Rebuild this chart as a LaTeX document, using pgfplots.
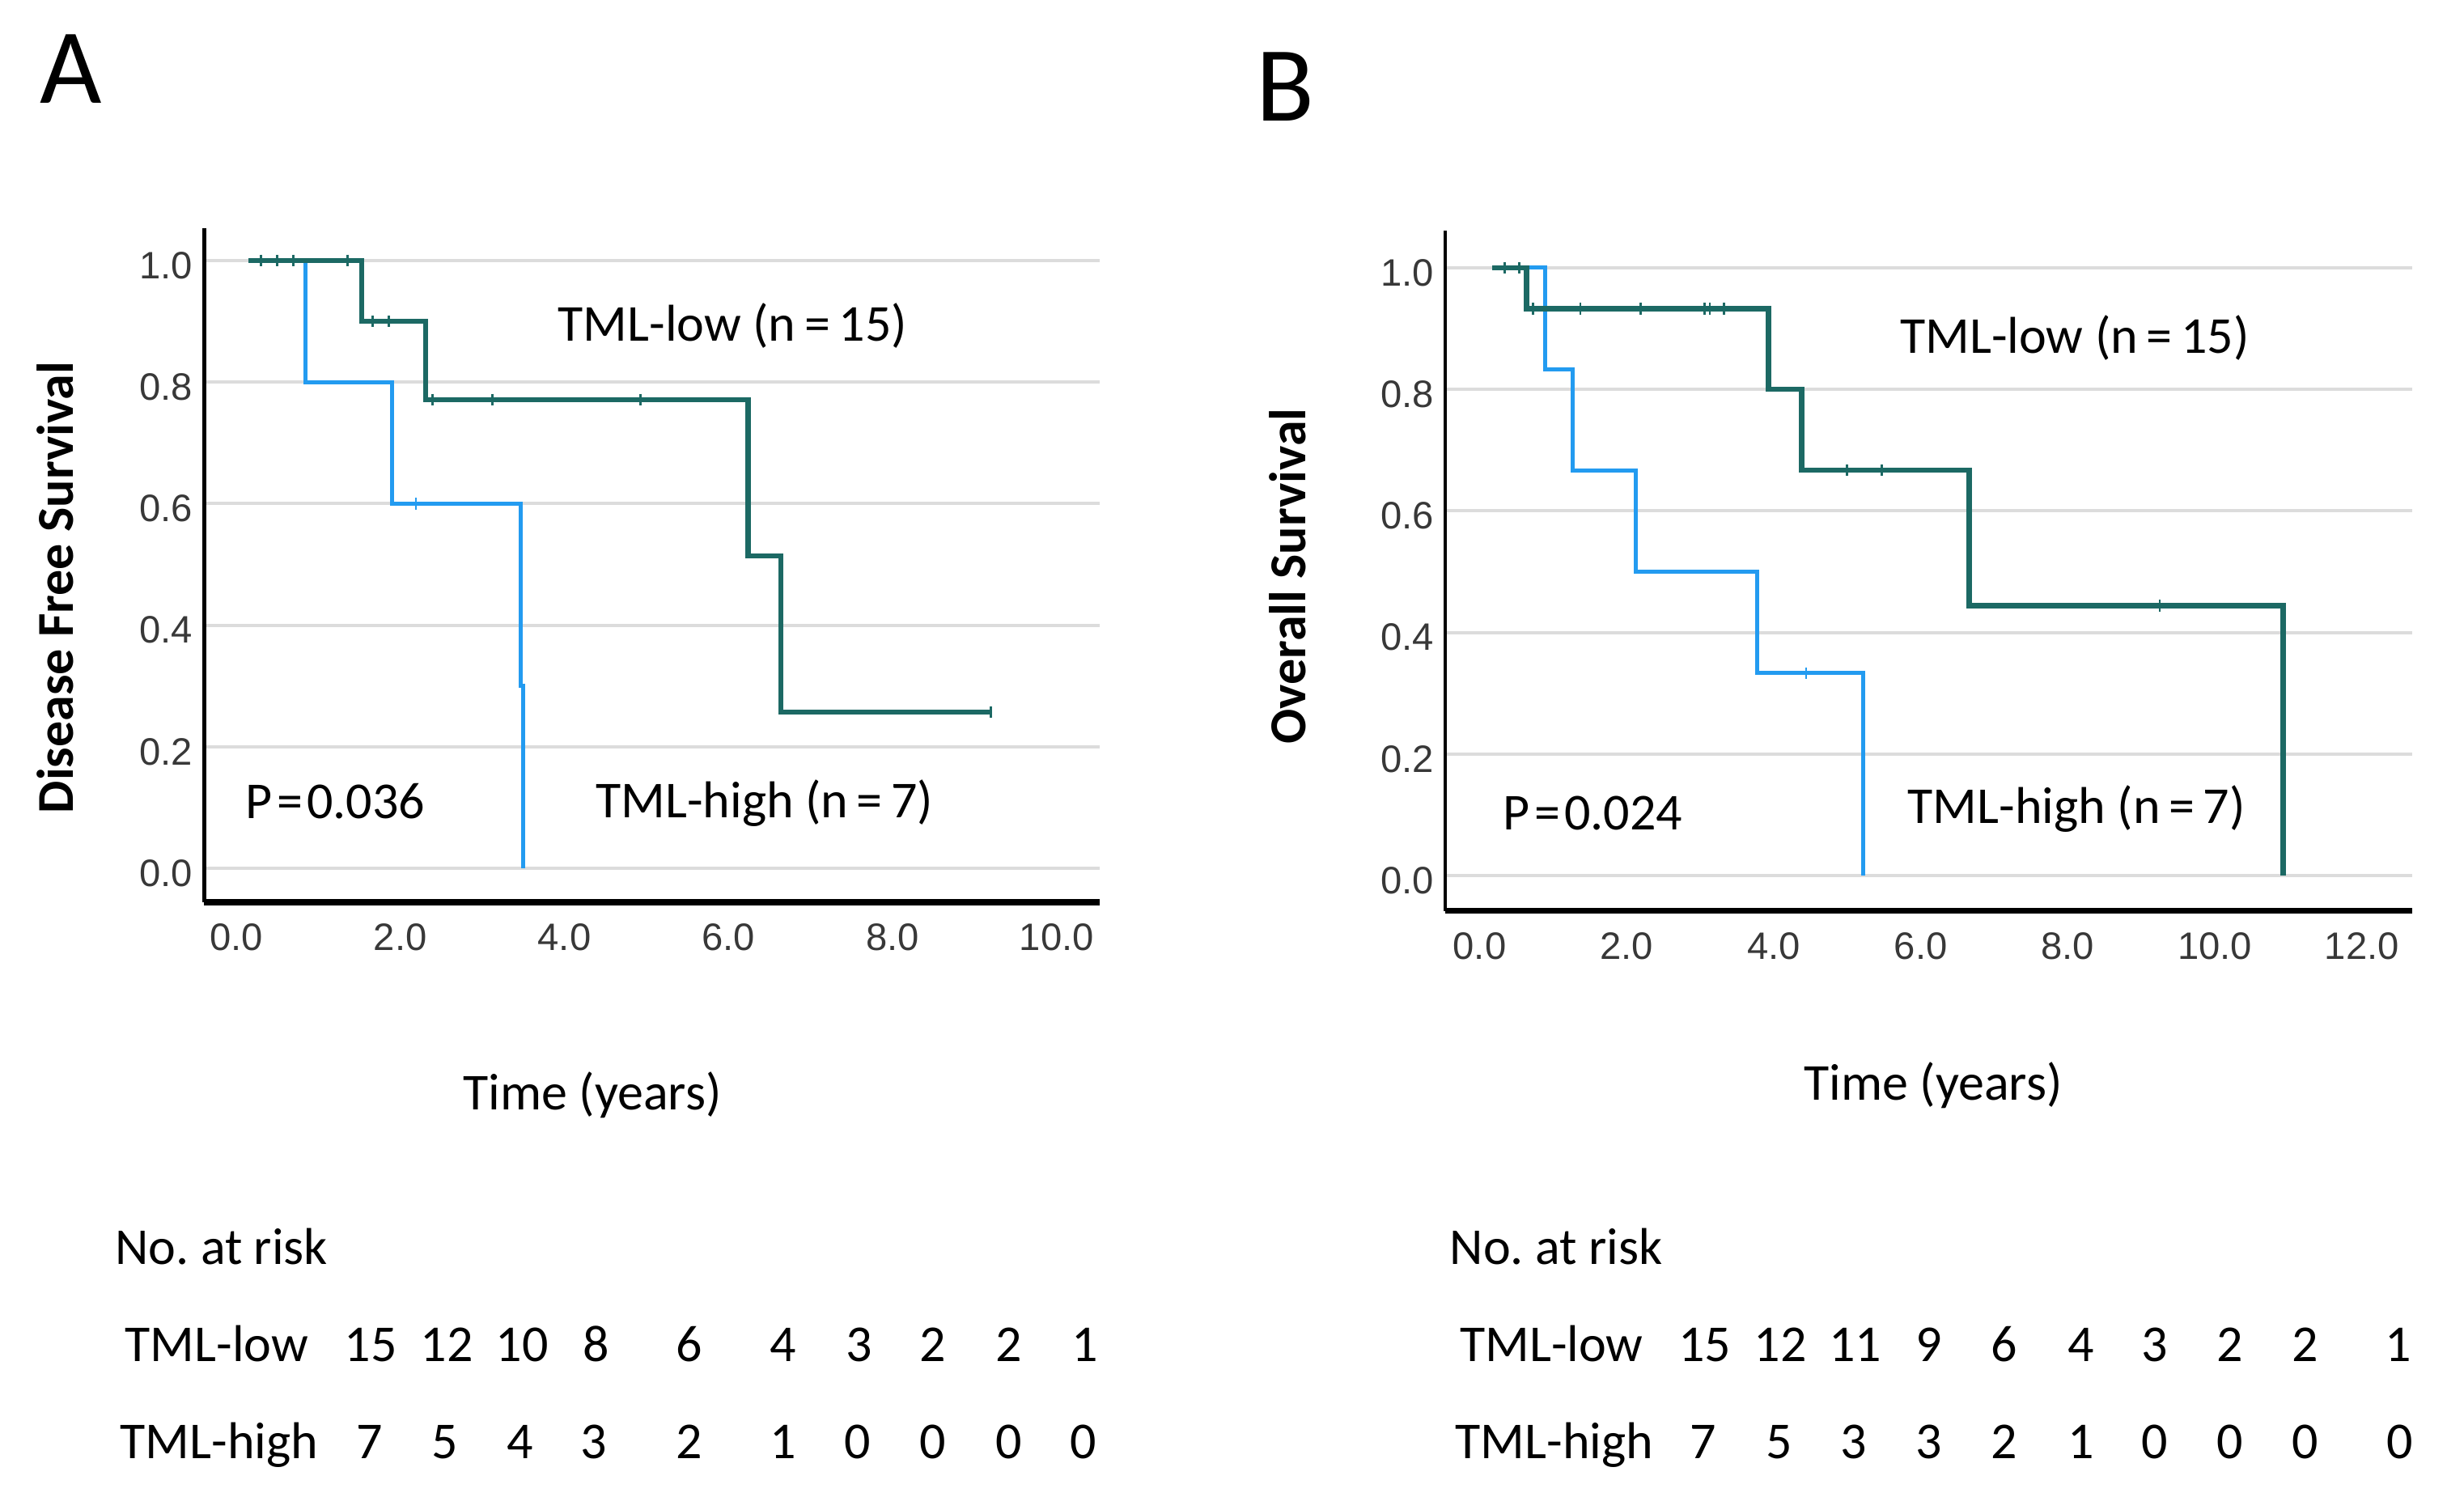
\documentclass[border=0pt]{standalone}
\usepackage{fontspec}
\setmainfont{Carlito}
\newfontfamily\arial{Liberation Sans}
\usepackage{pgfplots}
\pgfplotsset{compat=1.18}
\definecolor{tealc}{RGB}{28,105,100}
\definecolor{bluec}{RGB}{35,155,240}
\definecolor{gridc}{RGB}{220,220,220}
\pgfplotsset{km/.style={
  scale only axis, anchor=south west,
  axis x line=bottom, axis y line=left,
  axis line style={-, black},
  x axis line style={line width=1.8pt},
  y axis line style={line width=1.1pt},
  major tick length=0pt,
  ymajorgrids, grid style={gridc, line width=1pt},
  ytick={0,0.2,0.4,0.6,0.8,1.0},
  tick label style={font=\arial\fontsize{11.8}{14}\selectfont, text=black!78},
  /pgf/number format/assume math mode=true,
  x tick label style={/pgf/number format/fixed, /pgf/number format/fixed zerofill, /pgf/number format/precision=1, yshift=-3.2pt},
  y tick label style={/pgf/number format/fixed, /pgf/number format/fixed zerofill, /pgf/number format/precision=1, yshift=-1.5pt},
  clip=false,
},
tealline/.style={const plot, tealc, line width=1.6pt},
blueline/.style={const plot, bluec, line width=1.25pt},
cens/.style={only marks, mark=|, mark size=1.8pt, mark options={line width=0.7pt}},
}
\newcommand{\txt}{\fontsize{16}{19}\selectfont}
\newcommand{\eq}{\kern0.08em=\kern0.08em}
\begin{document}
\begin{tikzpicture}
\path[use as bounding box] (0,0) rectangle (761.25pt,462.5pt);

% ---------- Panel A ----------
\begin{axis}[km, at={(63.08pt,183.75pt)}, width=276.55pt, height=208.25pt,
  xmin=-0.39, xmax=10.52, ymin=-0.0555, ymax=1.053,
  xtick={0,2,4,6,8,10}]
\addplot[blueline] coordinates {(0.15,1) (0.84,0.8) (1.90,0.6) (3.47,0.3) (3.50,0)};
\addplot[cens, bluec] coordinates {(2.19,0.6)};
\addplot[tealline] coordinates {(0.15,1) (1.53,0.9) (2.31,0.771) (6.24,0.514) (6.64,0.257) (9.2,0.257)};
\addplot[cens, tealc] coordinates {(0.30,1) (0.50,1) (0.70,1) (1.36,1) (1.66,0.9) (1.86,0.9) (2.39,0.771) (3.12,0.771) (4.93,0.771) (9.2,0.257)};
\end{axis}

% ---------- Panel B ----------
\begin{axis}[km, at={(446.45pt,181.1pt)}, width=298.7pt, height=210.1pt,
  xmin=-0.47, xmax=12.68, ymin=-0.058, ymax=1.061,
  xtick={0,2,4,6,8,10,12}]
\addplot[blueline] coordinates {(0.17,1) (0.89,0.833) (1.26,0.667) (2.12,0.5) (3.77,0.333) (5.22,0)};
\addplot[cens, bluec] coordinates {(4.44,0.333)};
\addplot[tealline] coordinates {(0.17,1) (0.64,0.933) (3.93,0.8) (4.38,0.667) (6.66,0.444) (10.93,0)};
\addplot[cens, tealc] coordinates {(0.34,1) (0.54,1) (0.73,0.933) (1.37,0.933) (2.19,0.933) (3.06,0.933) (3.13,0.933) (3.32,0.933) (5.0,0.667) (5.47,0.667) (9.25,0.444)};
\end{axis}

% ---------- Panel letters ----------
\node[font=\fontsize{33}{36}\selectfont] at (22pt,441.25pt) {A};
\node[font=\fontsize{33}{36}\selectfont] at (397pt,435.75pt) {B};

% ---------- Axis titles ----------
\node[font=\txt\bfseries, rotate=90] at (17pt,281pt) {Disease Free Survival};
\node[font=\txt\bfseries, rotate=90] at (397.75pt,284.5pt) {Overall Survival};
\node[font=\txt] at (183pt,124.25pt) {Time (years)};
\node[font=\txt] at (597.25pt,127.25pt) {Time (years)};

% ---------- In-plot annotations ----------
\node[font=\txt, anchor=west, inner sep=0pt] at (172.25pt,361.75pt) {TML-low (n\,=\,15)};
\node[font=\txt, anchor=west, inner sep=0pt] at (183.9pt,214.25pt) {TML-high (n\,=\,7)};
\node[font=\txt, anchor=west, inner sep=0pt] at (75.75pt,215pt) {P\eq 0.036};
\node[font=\txt, anchor=west, inner sep=0pt] at (586.9pt,358pt) {TML-low (n\,=\,15)};
\node[font=\txt, anchor=west, inner sep=0pt] at (589.25pt,212.5pt) {TML-high (n\,=\,7)};
\node[font=\txt, anchor=west, inner sep=0pt] at (464.25pt,211.25pt) {P\eq 0.024};

% ---------- Numbers at risk, A ----------
\node[font=\txt, anchor=base west, inner sep=0pt] at (35.4pt,71.75pt) {No.\ at risk};
\node[font=\txt, anchor=base west, inner sep=0pt] at (38.5pt,41.75pt) {TML-low};
\node[font=\txt, anchor=base west, inner sep=0pt] at (37pt,11.75pt) {TML-high};
\foreach \x/\n in {114.5/15,138/12,161.25/10,184.25/8,213/6,242/4,265.5/3,288.25/2,311.6/2,335.25/1}
  \node[font=\txt, anchor=base, inner sep=0pt] at (\x pt,41.75pt) {\n};
\foreach \x/\n in {114.2/7,137.5/5,160.75/4,183.5/3,213/2,242/1,265/0,288.25/0,311.6/0,334.75/0}
  \node[font=\txt, anchor=base, inner sep=0pt] at (\x pt,11.75pt) {\n};

% ---------- Numbers at risk, B ----------
\node[font=\txt, anchor=base west, inner sep=0pt] at (447.75pt,71.75pt) {No.\ at risk};
\node[font=\txt, anchor=base west, inner sep=0pt] at (450.9pt,41.75pt) {TML-low};
\node[font=\txt, anchor=base west, inner sep=0pt] at (449.5pt,11.75pt) {TML-high};
\foreach \x/\n in {526.7/15,550/12,573.15/11,596/9,619.25/6,643/4,665.75/3,689/2,712.15/2,741/1}
  \node[font=\txt, anchor=base, inner sep=0pt] at (\x pt,41.75pt) {\n};
\foreach \x/\n in {526.3/7,549.6/5,572.7/3,596/3,619.25/2,643/1,665.75/0,689/0,712.15/0,741.4/0}
  \node[font=\txt, anchor=base, inner sep=0pt] at (\x pt,11.75pt) {\n};
\end{tikzpicture}
\end{document}
